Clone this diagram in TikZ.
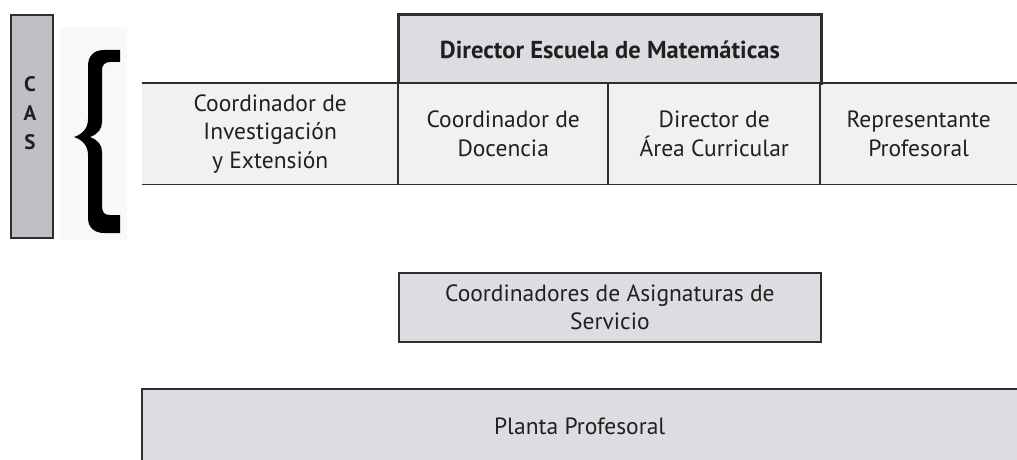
\documentclass[tikz,border=0pt]{standalone}
\usepackage{fontspec}
\setmainfont{PT Sans}
\definecolor{casfill}{HTML}{BFC0C3}
\definecolor{darkfill}{HTML}{DCDDE0}
\definecolor{lightfill}{HTML}{F0F1F3}
\definecolor{edgecol}{HTML}{2E2E2E}
\definecolor{txt}{HTML}{231F20}
\definecolor{bracebg}{HTML}{F8F8F8}
\begin{document}
\begin{tikzpicture}[x=1pt,y=-1pt,
  cell/.style={inner sep=0pt, align=center, text=txt,
    font=\fontsize{23.5}{28.5}\selectfont},
  border/.style={draw=edgecol, line width=1.8pt},
]
\useasboundingbox (0,0) rectangle (1017,460);

% CAS bar
\node[fill=casfill, border, minimum width=42pt, minimum height=223pt, anchor=north west, inner sep=0pt] (cas) at (10,14) {};
\node[cell, font=\fontsize{21}{29}\selectfont\bfseries] (casl) at (30,113) {C\\A\\S};

% brace backdrop and brace
\fill[bracebg] (60,27) rectangle (127,240);
\fill[black] (120,50) -- (104,50) .. controls (94,50) and (88,56) .. (88,66)
  -- (88,119) .. controls (88,128) and (83,134) .. (74,137)
  .. controls (83,140) and (88,146) .. (88,155)
  -- (88,218) .. controls (88,228) and (95,233) .. (104,233)
  -- (120,233) -- (120,215) -- (110,215)
  .. controls (104,215) and (102,212) .. (102,206)
  -- (102,152) .. controls (102,145) and (98,140) .. (90,137)
  .. controls (98,134) and (102,129) .. (102,122)
  -- (102,70) .. controls (102,65) and (105,62) .. (110,62)
  -- (120,62) -- cycle;

% director
\node[cell, fill=darkfill, border, minimum width=422pt, minimum height=69pt, anchor=north west,
  font=\fontsize{24.5}{28.5}\selectfont\bfseries] (dir) at (398,14) {Director Escuela de Matemáticas};

% row cells
\node[cell, fill=lightfill, minimum width=256pt, minimum height=101pt, anchor=north west] (c1) at (142,83)
  {Coordinador de\\Investigación\\y Extensión};
\node[cell, fill=lightfill, minimum width=210pt, minimum height=101pt, anchor=north west] (c2) at (398,83)
  {Coordinador de\\Docencia};
\node[cell, fill=lightfill, minimum width=212pt, minimum height=101pt, anchor=north west] (c3) at (608,83)
  {Director de\\Área Curricular};
\node[cell, fill=lightfill, minimum width=197pt, minimum height=101pt, anchor=north west] (c4) at (820,83)
  {Representante\\Profesoral};
\draw[border] (c1.north west) -- (c4.north east);
\draw[border] (c1.south west) -- (c4.south east);
\draw[border] (c2.north west) -- (c2.south west);
\draw[border] (c3.north west) -- (c3.south west);
\draw[border] (c4.north west) -- (c4.south west);
\draw[border] (dir.south west) -- (dir.north west) -- (dir.north east) -- (dir.south east);

% coordinadores de asignaturas
\node[cell, fill=darkfill, border, minimum width=422pt, minimum height=69pt, anchor=north west] (coord) at (398,272)
  {Coordinadores de Asignaturas de\\Servicio};

% planta profesoral
\node[cell, fill=darkfill, minimum width=875pt, minimum height=75pt, anchor=north west] (planta) at (142,389)
  {Planta Profesoral};
\draw[border] (planta.south west) -- (planta.north west) -- (planta.north east);
\end{tikzpicture}
\end{document}
